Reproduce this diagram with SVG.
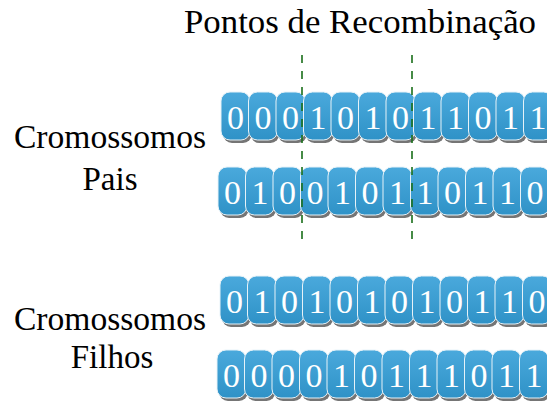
<svg xmlns="http://www.w3.org/2000/svg" width="547" height="402" viewBox="0 0 547 402">
<defs>
<linearGradient id="bg" x1="0" y1="0" x2="0" y2="1">
<stop offset="0" stop-color="#4aa9dc"/>
<stop offset="1" stop-color="#2f92c7"/>
</linearGradient>
<style>
.sh{fill:#757575}
.bx{fill:url(#bg);stroke:#e6f2f8;stroke-width:1}
.d{font-family:"Liberation Serif","Times New Roman",serif;font-size:34px;fill:#ffffff;text-anchor:middle}
.lb{font-family:"Liberation Serif","Times New Roman",serif;font-size:33px;fill:#000000;text-anchor:middle}
.cut{stroke:#1a6f1a;stroke-width:1.6;stroke-dasharray:8 8;fill:none}
</style>
</defs>
<rect width="547" height="402" fill="#ffffff"/>
<text class="lb" x="360" y="33" textLength="352" lengthAdjust="spacingAndGlyphs">Pontos de Recombinação</text>
<text class="lb" x="110" y="148" textLength="192" lengthAdjust="spacingAndGlyphs">Cromossomos</text>
<text class="lb" x="110" y="190">Pais</text>
<text class="lb" x="110" y="330" textLength="192" lengthAdjust="spacingAndGlyphs">Cromossomos</text>
<text class="lb" x="112" y="368">Filhos</text>

<g id="pai1">
<g id="p1b0"><rect class="sh" x="223" y="95" width="29" height="48" rx="9"/><rect class="bx" x="221" y="92" width="29" height="48" rx="9"/><text class="d" x="235.5" y="129">0</text></g>
<g id="p1b1"><rect class="sh" x="250.5" y="95" width="29" height="48" rx="9"/><rect class="bx" x="248.5" y="92" width="29" height="48" rx="9"/><text class="d" x="263" y="129">0</text></g>
<g id="p1b2"><rect class="sh" x="278" y="95" width="29" height="48" rx="9"/><rect class="bx" x="276" y="92" width="29" height="48" rx="9"/><text class="d" x="290.5" y="129">0</text></g>
<g id="p1b3"><rect class="sh" x="305.5" y="95" width="29" height="48" rx="9"/><rect class="bx" x="303.5" y="92" width="29" height="48" rx="9"/><text class="d" x="318" y="129">1</text></g>
<g id="p1b4"><rect class="sh" x="333" y="95" width="29" height="48" rx="9"/><rect class="bx" x="331" y="92" width="29" height="48" rx="9"/><text class="d" x="345.5" y="129">0</text></g>
<g id="p1b5"><rect class="sh" x="360.5" y="95" width="29" height="48" rx="9"/><rect class="bx" x="358.5" y="92" width="29" height="48" rx="9"/><text class="d" x="373" y="129">1</text></g>
<g id="p1b6"><rect class="sh" x="388" y="95" width="29" height="48" rx="9"/><rect class="bx" x="386" y="92" width="29" height="48" rx="9"/><text class="d" x="400.5" y="129">0</text></g>
<g id="p1b7"><rect class="sh" x="415.5" y="95" width="29" height="48" rx="9"/><rect class="bx" x="413.5" y="92" width="29" height="48" rx="9"/><text class="d" x="428" y="129">1</text></g>
<g id="p1b8"><rect class="sh" x="443" y="95" width="29" height="48" rx="9"/><rect class="bx" x="441" y="92" width="29" height="48" rx="9"/><text class="d" x="455.5" y="129">1</text></g>
<g id="p1b9"><rect class="sh" x="470.5" y="95" width="29" height="48" rx="9"/><rect class="bx" x="468.5" y="92" width="29" height="48" rx="9"/><text class="d" x="483" y="129">0</text></g>
<g id="p1b10"><rect class="sh" x="498" y="95" width="29" height="48" rx="9"/><rect class="bx" x="496" y="92" width="29" height="48" rx="9"/><text class="d" x="510.5" y="129">1</text></g>
<g id="p1b11"><rect class="sh" x="525.5" y="95" width="29" height="48" rx="9"/><rect class="bx" x="523.5" y="92" width="29" height="48" rx="9"/><text class="d" x="538" y="129">1</text></g>
</g>

<g id="pai2">
<g id="p2b0"><rect class="sh" x="220" y="170" width="29" height="48" rx="9"/><rect class="bx" x="218" y="167" width="29" height="48" rx="9"/><text class="d" x="232.5" y="204">0</text></g>
<g id="p2b1"><rect class="sh" x="247.5" y="170" width="29" height="48" rx="9"/><rect class="bx" x="245.5" y="167" width="29" height="48" rx="9"/><text class="d" x="260" y="204">1</text></g>
<g id="p2b2"><rect class="sh" x="275" y="170" width="29" height="48" rx="9"/><rect class="bx" x="273" y="167" width="29" height="48" rx="9"/><text class="d" x="287.5" y="204">0</text></g>
<g id="p2b3"><rect class="sh" x="302.5" y="170" width="29" height="48" rx="9"/><rect class="bx" x="300.5" y="167" width="29" height="48" rx="9"/><text class="d" x="315" y="204">0</text></g>
<g id="p2b4"><rect class="sh" x="330" y="170" width="29" height="48" rx="9"/><rect class="bx" x="328" y="167" width="29" height="48" rx="9"/><text class="d" x="342.5" y="204">1</text></g>
<g id="p2b5"><rect class="sh" x="357.5" y="170" width="29" height="48" rx="9"/><rect class="bx" x="355.5" y="167" width="29" height="48" rx="9"/><text class="d" x="370" y="204">0</text></g>
<g id="p2b6"><rect class="sh" x="385" y="170" width="29" height="48" rx="9"/><rect class="bx" x="383" y="167" width="29" height="48" rx="9"/><text class="d" x="397.5" y="204">1</text></g>
<g id="p2b7"><rect class="sh" x="412.5" y="170" width="29" height="48" rx="9"/><rect class="bx" x="410.5" y="167" width="29" height="48" rx="9"/><text class="d" x="425" y="204">1</text></g>
<g id="p2b8"><rect class="sh" x="440" y="170" width="29" height="48" rx="9"/><rect class="bx" x="438" y="167" width="29" height="48" rx="9"/><text class="d" x="452.5" y="204">0</text></g>
<g id="p2b9"><rect class="sh" x="467.5" y="170" width="29" height="48" rx="9"/><rect class="bx" x="465.5" y="167" width="29" height="48" rx="9"/><text class="d" x="480" y="204">1</text></g>
<g id="p2b10"><rect class="sh" x="495" y="170" width="29" height="48" rx="9"/><rect class="bx" x="493" y="167" width="29" height="48" rx="9"/><text class="d" x="507.5" y="204">1</text></g>
<g id="p2b11"><rect class="sh" x="522.5" y="170" width="29" height="48" rx="9"/><rect class="bx" x="520.5" y="167" width="29" height="48" rx="9"/><text class="d" x="535" y="204">0</text></g>
</g>

<g id="filho1">
<g id="f1b0"><rect class="sh" x="222" y="279" width="29" height="48" rx="9"/><rect class="bx" x="220" y="276" width="29" height="48" rx="9"/><text class="d" x="234.5" y="313">0</text></g>
<g id="f1b1"><rect class="sh" x="249.5" y="279" width="29" height="48" rx="9"/><rect class="bx" x="247.5" y="276" width="29" height="48" rx="9"/><text class="d" x="262" y="313">1</text></g>
<g id="f1b2"><rect class="sh" x="277" y="279" width="29" height="48" rx="9"/><rect class="bx" x="275" y="276" width="29" height="48" rx="9"/><text class="d" x="289.5" y="313">0</text></g>
<g id="f1b3"><rect class="sh" x="304.5" y="279" width="29" height="48" rx="9"/><rect class="bx" x="302.5" y="276" width="29" height="48" rx="9"/><text class="d" x="317" y="313">1</text></g>
<g id="f1b4"><rect class="sh" x="332" y="279" width="29" height="48" rx="9"/><rect class="bx" x="330" y="276" width="29" height="48" rx="9"/><text class="d" x="344.5" y="313">0</text></g>
<g id="f1b5"><rect class="sh" x="359.5" y="279" width="29" height="48" rx="9"/><rect class="bx" x="357.5" y="276" width="29" height="48" rx="9"/><text class="d" x="372" y="313">1</text></g>
<g id="f1b6"><rect class="sh" x="387" y="279" width="29" height="48" rx="9"/><rect class="bx" x="385" y="276" width="29" height="48" rx="9"/><text class="d" x="399.5" y="313">0</text></g>
<g id="f1b7"><rect class="sh" x="414.5" y="279" width="29" height="48" rx="9"/><rect class="bx" x="412.5" y="276" width="29" height="48" rx="9"/><text class="d" x="427" y="313">1</text></g>
<g id="f1b8"><rect class="sh" x="442" y="279" width="29" height="48" rx="9"/><rect class="bx" x="440" y="276" width="29" height="48" rx="9"/><text class="d" x="454.5" y="313">0</text></g>
<g id="f1b9"><rect class="sh" x="469.5" y="279" width="29" height="48" rx="9"/><rect class="bx" x="467.5" y="276" width="29" height="48" rx="9"/><text class="d" x="482" y="313">1</text></g>
<g id="f1b10"><rect class="sh" x="497" y="279" width="29" height="48" rx="9"/><rect class="bx" x="495" y="276" width="29" height="48" rx="9"/><text class="d" x="509.5" y="313">1</text></g>
<g id="f1b11"><rect class="sh" x="524.5" y="279" width="29" height="48" rx="9"/><rect class="bx" x="522.5" y="276" width="29" height="48" rx="9"/><text class="d" x="537" y="313">0</text></g>
</g>

<g id="filho2">
<g id="f2b0"><rect class="sh" x="219" y="353" width="29" height="48" rx="9"/><rect class="bx" x="217" y="350" width="29" height="48" rx="9"/><text class="d" x="231.5" y="387">0</text></g>
<g id="f2b1"><rect class="sh" x="246.5" y="353" width="29" height="48" rx="9"/><rect class="bx" x="244.5" y="350" width="29" height="48" rx="9"/><text class="d" x="259" y="387">0</text></g>
<g id="f2b2"><rect class="sh" x="274" y="353" width="29" height="48" rx="9"/><rect class="bx" x="272" y="350" width="29" height="48" rx="9"/><text class="d" x="286.5" y="387">0</text></g>
<g id="f2b3"><rect class="sh" x="301.5" y="353" width="29" height="48" rx="9"/><rect class="bx" x="299.5" y="350" width="29" height="48" rx="9"/><text class="d" x="314" y="387">0</text></g>
<g id="f2b4"><rect class="sh" x="329" y="353" width="29" height="48" rx="9"/><rect class="bx" x="327" y="350" width="29" height="48" rx="9"/><text class="d" x="341.5" y="387">1</text></g>
<g id="f2b5"><rect class="sh" x="356.5" y="353" width="29" height="48" rx="9"/><rect class="bx" x="354.5" y="350" width="29" height="48" rx="9"/><text class="d" x="369" y="387">0</text></g>
<g id="f2b6"><rect class="sh" x="384" y="353" width="29" height="48" rx="9"/><rect class="bx" x="382" y="350" width="29" height="48" rx="9"/><text class="d" x="396.5" y="387">1</text></g>
<g id="f2b7"><rect class="sh" x="411.5" y="353" width="29" height="48" rx="9"/><rect class="bx" x="409.5" y="350" width="29" height="48" rx="9"/><text class="d" x="424" y="387">1</text></g>
<g id="f2b8"><rect class="sh" x="439" y="353" width="29" height="48" rx="9"/><rect class="bx" x="437" y="350" width="29" height="48" rx="9"/><text class="d" x="451.5" y="387">1</text></g>
<g id="f2b9"><rect class="sh" x="466.5" y="353" width="29" height="48" rx="9"/><rect class="bx" x="464.5" y="350" width="29" height="48" rx="9"/><text class="d" x="479" y="387">0</text></g>
<g id="f2b10"><rect class="sh" x="494" y="353" width="29" height="48" rx="9"/><rect class="bx" x="492" y="350" width="29" height="48" rx="9"/><text class="d" x="506.5" y="387">1</text></g>
<g id="f2b11"><rect class="sh" x="521.5" y="353" width="29" height="48" rx="9"/><rect class="bx" x="519.5" y="350" width="29" height="48" rx="9"/><text class="d" x="534" y="387">1</text></g>
</g>

<g id="connectors">
<line class="cut" x1="302" y1="55" x2="302" y2="243"/>
<line class="cut" x1="412" y1="55" x2="412" y2="243"/>
</g>
</svg>
